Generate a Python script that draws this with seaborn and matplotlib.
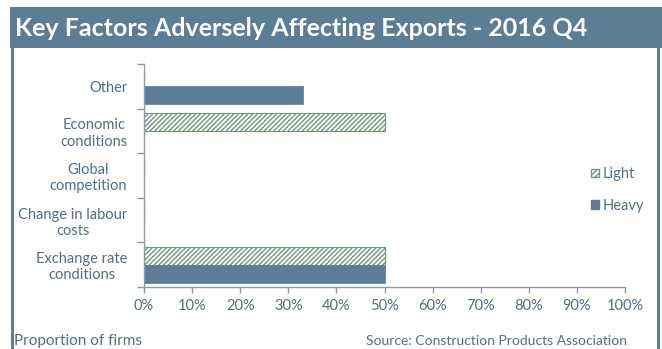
import matplotlib
matplotlib.use("Agg")
import matplotlib.pyplot as plt
import seaborn as sns
import pandas as pd
from matplotlib.patches import Rectangle, Patch
from matplotlib.lines import Line2D

categories = ["Other", "Economic\nconditions", "Global\ncompetition",
              "Change in labour\ncosts", "Exchange rate\nconditions"]
light = [0, 50, 0, 0, 50]
heavy = [33, 0, 0, 0, 50]
series = ["Light", "Heavy"]
xticks = [0, 10, 20, 30, 40, 50, 60, 70, 80, 90, 100]

df = pd.DataFrame({
    "factor": categories * 2,
    "value": light + heavy,
    "series": ["Light"] * len(categories) + ["Heavy"] * len(categories),
})

sns.set_theme(style="white")
plt.rcParams['font.family'] = ['Lato', 'DejaVu Sans']
plt.rcParams['hatch.linewidth'] = 1.0

BLUE = "#5b7d96"
TXT = "#4f6f8a"
GREEN = "#6a9a7a"
AX = "#8a9cab"

fig = plt.figure(figsize=(6.62, 3.49), dpi=100)
W, H = 662, 349

# title bar
fig.patches.append(Rectangle((10 / W, 1 - 48 / H), 1 - 10 / W, 41 / H,
                             transform=fig.transFigure, facecolor=BLUE,
                             edgecolor="none", zorder=0))
fig.text(15 / W, 1 - 28 / H, "Key Factors Adversely Affecting Exports - 2016 Q4",
         color="white", fontsize=18, fontweight="bold", va="center", ha="left")
# frame lines
fig.add_artist(Line2D([12 / W, 12 / W], [0, 1 - 48 / H], transform=fig.transFigure,
                      color=BLUE, lw=2.2))
fig.add_artist(Line2D([658 / W, 658 / W], [0, 1 - 48 / H], transform=fig.transFigure,
                      color=BLUE, lw=2.2))

ax = fig.add_axes([144 / W, 1 - 287 / H, (625 - 144) / W, (287 - 64) / H])
sns.barplot(data=df, x="value", y="factor", hue="series", hue_order=series,
            order=categories, orient="h", ax=ax, width=0.8, gap=0,
            palette={"Light": "white", "Heavy": BLUE}, legend=False,
            saturation=1)

for cont, s in zip(ax.containers, series):
    for bar in cont:
        if s == "Light":
            bar.set_facecolor("white")
            bar.set_edgecolor(GREEN)
            bar.set_hatch("///////")
            bar.set_linewidth(0.8)
        else:
            bar.set_facecolor(BLUE)
            bar.set_edgecolor(BLUE)
            bar.set_linewidth(0.5)

ax.set_xlim(0, 100)
ax.set_ylim(len(categories) - 0.5, -0.5)
ax.set_xticks(xticks)
ax.set_xticklabels([f"{t}%" for t in xticks])
ax.set_yticks(range(len(categories)))
ax.set_yticklabels(categories, multialignment="center")
ax.set_yticks([i - 0.5 for i in range(len(categories) + 1)], minor=True)
ax.set_xlabel("")
ax.set_ylabel("")

for sp in ["top", "right"]:
    ax.spines[sp].set_visible(False)
for sp in ["left", "bottom"]:
    ax.spines[sp].set_color(AX)
    ax.spines[sp].set_linewidth(1.0)

ax.tick_params(axis="y", which="major", length=0, pad=12, labelsize=10.5, labelcolor=TXT)
ax.tick_params(axis="y", which="minor", length=5, width=1, color=AX, direction="out", left=True)
ax.tick_params(axis="x", which="major", length=4, width=1, color=AX, direction="out",
               bottom=True, pad=5, labelsize=10.5, labelcolor=TXT)

handles = [Patch(facecolor="white", edgecolor=GREEN, hatch="//////", label="Light"),
           Patch(facecolor=BLUE, edgecolor=BLUE, label="Heavy")]
fig.legend(handles=handles, loc="center left", bbox_to_anchor=(578 / W, 1 - 190 / H),
           frameon=False, fontsize=10.5, labelcolor=TXT, handlelength=0.55,
           handleheight=0.55, handletextpad=0.25, labelspacing=1.2)

fig.text(14 / W, 1 - 341 / H, "Proportion of firms", color=TXT, fontsize=11,
         va="center", ha="left")
fig.text(627 / W, 1 - 341 / H, "Source: Construction Products Association", color=TXT,
         fontsize=10, va="center", ha="right")

fig.savefig("out.png", dpi=100)
